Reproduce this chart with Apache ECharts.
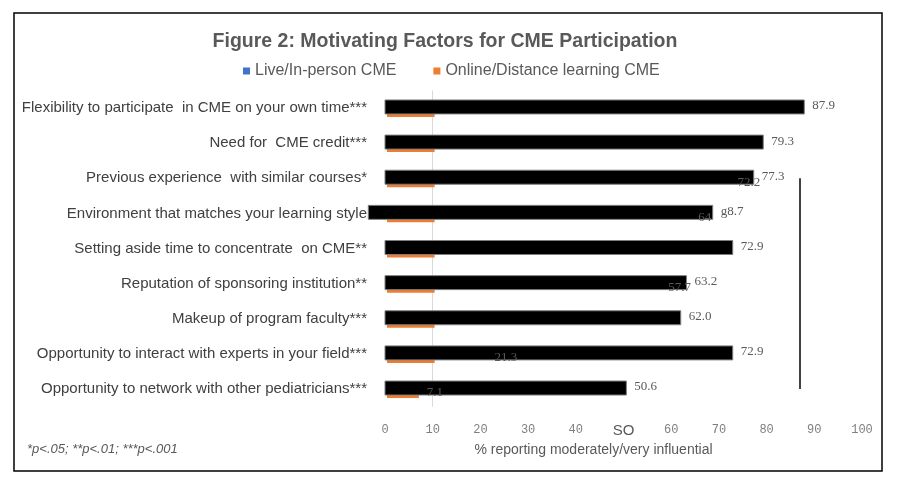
<!DOCTYPE html>
<html>
<head>
<meta charset="utf-8">
<script src="https://cdn.jsdelivr.net/npm/echarts@6/dist/echarts.min.js"></script>
<style>html,body{margin:0;padding:0;background:#fff;}#chart{width:900px;height:490px;}</style>
</head>
<body>
<div id="chart"></div>
<script>
const categories = [
  'Flexibility to participate  in CME on your own time***',
  'Need for  CME credit***',
  'Previous experience  with similar courses*',
  'Environment that matches your learning style',
  'Setting aside time to concentrate  on CME**',
  'Reputation of sponsoring institution**',
  'Makeup of program faculty***',
  'Opportunity to interact with experts in your field***',
  'Opportunity to network with other pediatricians***'
];
const liveValues = [87.9, 79.3, 77.3, 68.7, 72.9, 63.2, 62.0, 72.9, 50.6];
const liveLabels = ['87.9', '79.3', '77.3', 'g8.7', '72.9', '63.2', '62.0', '72.9', '50.6'];
const liveStart = [0, 0, 0, -3.5, 0, 0, 0, 0, 0];
const onlineBarValues = [10.4, 10.4, 10.4, 10.4, 10.4, 10.4, 10.4, 10.4, 7.1];
const onlineLabelValues = [null, null, 72.2, 64, null, 57.7, null, 21.3, 7.1];
const onlineLabels = ['', '', '72.2', '64', '', '57.7', '', '21.3', '7.1'];
const xTickLabels = ['0', '10', '20', '30', '40', 'SO', '60', '70', '80', '90', '100'];
const strayLineX = 87;
const titleText = 'Figure 2: Motivating Factors for CME Participation';

const chart = echarts.init(document.getElementById('chart'), null, {renderer: 'canvas'});

function barRenderer(top, bottom, fill, stroke, dx) {
  return function (params, api) {
    const i = api.value(2);
    const p0 = api.coord([api.value(0), i]);
    const p1 = api.coord([api.value(1), i]);
    return {
      type: 'rect',
      shape: {x: p0[0] + dx, y: p0[1] + top, width: p1[0] - p0[0] - dx, height: bottom - top},
      style: {fill: fill, stroke: stroke, lineWidth: stroke ? 1 : 0}
    };
  };
}
function labelRenderer(dy, texts) {
  return function (params, api) {
    const i = api.value(1);
    const p = api.coord([api.value(0), i]);
    return {
      type: 'text',
      x: p[0] + 8, y: p[1] + dy,
      style: {text: texts[i], fill: '#595959', font: '13px "Liberation Serif"', verticalAlign: 'middle', align: 'left'}
    };
  };
}

const liveData = liveValues.map((v, i) => [liveStart[i], v, i]);
const onlineData = onlineBarValues.map((v, i) => [0, v, i]);
const liveLabelData = liveValues.map((v, i) => [v, i]);
const onlineLabelData = [];
onlineLabelValues.forEach((v, i) => { if (v !== null) onlineLabelData.push([v, i]); });

const option = {
  animation: false,
  legend: {
    left: 243, top: 63, padding: 0,
    icon: 'rect', itemWidth: 7, itemHeight: 7, itemGap: 37,
    textStyle: {fontFamily: '"Liberation Sans"', fontSize: 16, color: '#595959', padding: [0, 0, 0, 0]},
    data: [
      {name: 'Live/In-person CME', itemStyle: {color: '#4472C4'}},
      {name: 'Online/Distance learning CME', itemStyle: {color: '#ED7D31'}}
    ]
  },
  grid: {left: 385, right: 38, top: 90.4, bottom: 83.4},
  xAxis: {
    type: 'value', min: 0, max: 100, interval: 10,
    axisLine: {show: false}, axisTick: {show: false}, splitLine: {show: false},
    axisLabel: {
      margin: 17, color: '#7f7f7f', fontFamily: '"Liberation Mono"', fontSize: 12,
      formatter: function (v) {
        const t = xTickLabels[Math.round(v / 10)];
        return t === 'SO' ? '{so|SO}' : t;
      },
      rich: {so: {fontFamily: '"Liberation Sans"', fontSize: 15, color: '#595959'}}
    },
    name: '% reporting moderately/very influential',
    nameLocation: 'middle', nameGap: 37,
    nameTextStyle: {fontFamily: '"Liberation Sans"', fontSize: 14, color: '#595959', padding: [0, 60, 0, 0]}
  },
  yAxis: {
    type: 'category', data: categories, inverse: true,
    axisLine: {show: false}, axisTick: {show: false},
    axisLabel: {margin: 18, color: '#404040', fontFamily: '"Liberation Sans"', fontSize: 15}
  },
  graphic: [
    {type: 'rect', shape: {x: 14, y: 13, width: 868, height: 458}, style: {fill: 'none', stroke: '#000', lineWidth: 1.5}},
    {type: 'text', x: 445, y: 42,
     style: {text: titleText, font: 'bold 19.5px "Liberation Sans"', fill: '#595959', align: 'center', verticalAlign: 'middle'}},
    {type: 'text', x: 27, y: 449, style: {text: '*p<.05; **p<.01; ***p<.001', font: 'italic 13px "Liberation Sans"', fill: '#595959', verticalAlign: 'middle'}}
  ],
  series: [
    {
      type: 'line', data: [], z: 1, silent: true,
      markLine: {
        z: 1,
        symbol: 'none', silent: true, label: {show: false},
        data: [
          {xAxis: 10, lineStyle: {color: '#d9d9d9', width: 1, type: 'solid'}},
          [{coord: [strayLineX, categories[2]], lineStyle: {color: '#000', width: 1.5, type: 'solid'}},
           {coord: [strayLineX, categories[8]]}]
        ]
      }
    },
    {
      name: 'Online/Distance learning CME', type: 'custom', z: 2,
      renderItem: barRenderer(0, 9, '#ED7D31', null, 2),
      encode: {x: [0, 1], y: 2}, data: onlineData
    },
    {
      name: 'Live/In-person CME', type: 'custom', z: 3,
      renderItem: barRenderer(-8, 6, '#000000', '#7f7f7f', 0),
      encode: {x: [0, 1], y: 2}, data: liveData
    },
    {
      type: 'custom', z: 4, silent: true,
      renderItem: labelRenderer(-2, liveLabels),
      encode: {x: 0, y: 1}, data: liveLabelData
    },
    {
      type: 'custom', z: 4, silent: true,
      renderItem: labelRenderer(4, onlineLabels),
      encode: {x: 0, y: 1}, data: onlineLabelData
    }
  ]
};
chart.setOption(option);
</script>
</body>
</html>
